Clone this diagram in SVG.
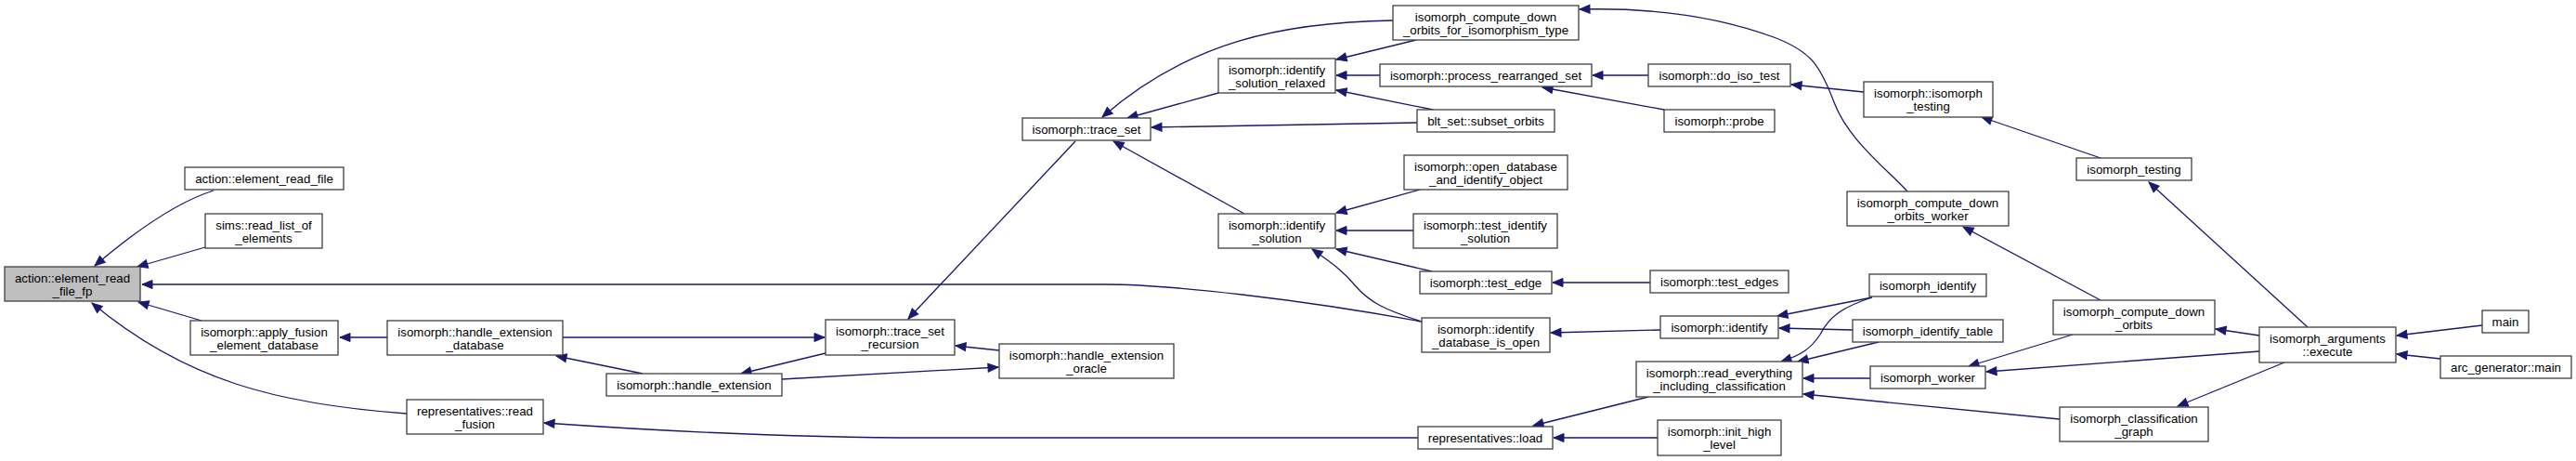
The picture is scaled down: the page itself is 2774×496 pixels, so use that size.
<svg xmlns="http://www.w3.org/2000/svg" width="2774" height="496" viewBox="0 0 2774 496">
<style>
.n rect{fill:#ffffff;stroke:#404040;stroke-width:1.3}
.n.cur rect{fill:#bfbfbf}
.n text{font-family:"Liberation Sans",Arial,sans-serif;font-size:13.3px;fill:#000;text-anchor:middle}
.e path{fill:none;stroke:midnightblue;stroke-width:1.3;marker-end:url(#arr)}
</style>
<defs>
<marker id="arr" markerUnits="userSpaceOnUse" markerWidth="14" markerHeight="12" refX="11" refY="5" orient="auto" overflow="visible">
<path d="M0,0.5 L11,5 L0,9.5 z" fill="midnightblue" stroke="midnightblue" stroke-width="1"/>
</marker>
</defs>
<rect width="2774" height="496" fill="#ffffff"/>
<g id="edges" class="e">
<path d="M230,205 C195,216 150,245 102,286"/>
<path d="M221,266 L148,287"/>
<path d="M1531,346 C1400,322 1260,306 1190,306 L153,306"/>
<path d="M217,345 L149,325"/>
<path d="M438,445 C300,435 200,410 99,326"/>
<path d="M417,363 L366,363"/>
<path d="M606,363 L888,363"/>
<path d="M692,402 L599,383"/>
<path d="M889,380 L798,402"/>
<path d="M842,408 L1075,395"/>
<path d="M1076,377 L1029,372"/>
<path d="M1158,152 L978,343"/>
<path d="M1527,471 L1000,471 C850,471 700,463 586,455"/>
<path d="M1312,100 L1214,127"/>
<path d="M1500,22 C1380,24 1280,45 1187,126"/>
<path d="M1526,132 L1240,137"/>
<path d="M1340,230 L1199,152"/>
<path d="M1525,43 L1439,64"/>
<path d="M1486,81 L1439,81"/>
<path d="M1543,118 L1439,97"/>
<path d="M1529,204 L1439,229"/>
<path d="M1522,248 L1439,248"/>
<path d="M1542,292 L1439,268"/>
<path d="M1531,346 C1490,333 1475,325 1460,308 C1445,290 1430,280 1413,268"/>
<path d="M1775,81 L1715,81"/>
<path d="M1792,118 L1661,94"/>
<path d="M1777,304 L1672,304"/>
<path d="M1788,355 L1670,358"/>
<path d="M1775,427 L1651,458"/>
<path d="M1785,471 L1673,471"/>
<path d="M2054,206 C2030,180 1990,150 1975,110 C1960,70 1950,55 1910,40 C1850,18 1780,8 1701,10"/>
<path d="M2007,99 L1929,91"/>
<path d="M2016,320 L1914,340"/>
<path d="M2016,320 C1985,330 1970,340 1960,360 C1950,375 1940,382 1918,389"/>
<path d="M1995,355 L1916,353"/>
<path d="M2023,368 L1936,389"/>
<path d="M2014,407 L1942,407"/>
<path d="M2218,451 L1942,424"/>
<path d="M2262,170 L2134,126"/>
<path d="M2262,323 L2114,244"/>
<path d="M2232,360 L2120,394"/>
<path d="M2433,378 L2139,400"/>
<path d="M2485,352 L2314,196"/>
<path d="M2433,361 L2386,354"/>
<path d="M2460,390 L2345,437"/>
<path d="M2673,350 L2581,361"/>
<path d="M2628,386 L2581,381"/>
</g>
<g id="n_fp" class="n cur"><rect x="5" y="287" width="146" height="37"/><text x="78" y="304">action::element_read</text><text x="78" y="317.5">_file_fp</text></g>
<g id="n_read_file" class="n"><rect x="199" y="180" width="171" height="24"/><text x="284.5" y="196.5">action::element_read_file</text></g>
<g id="n_sims" class="n"><rect x="221" y="230" width="126" height="37"/><text x="284" y="247">sims::read_list_of</text><text x="284" y="260.5">_elements</text></g>
<g id="n_apply_fusion" class="n"><rect x="205" y="345" width="159" height="37"/><text x="284.5" y="362">isomorph::apply_fusion</text><text x="284.5" y="375.5">_element_database</text></g>
<g id="n_hed" class="n"><rect x="417" y="345" width="189" height="37"/><text x="511.5" y="362">isomorph::handle_extension</text><text x="511.5" y="375.5">_database</text></g>
<g id="n_he" class="n"><rect x="653" y="402" width="189" height="24"/><text x="747.5" y="418.5">isomorph::handle_extension</text></g>
<g id="n_read_fusion" class="n"><rect x="438" y="430" width="147" height="37"/><text x="511.5" y="447">representatives::read</text><text x="511.5" y="460.5">_fusion</text></g>
<g id="n_trace_set" class="n"><rect x="1101" y="127" width="138" height="24"/><text x="1170" y="143.5">isomorph::trace_set</text></g>
<g id="n_tsr" class="n"><rect x="889" y="344" width="139" height="38"/><text x="958.5" y="361">isomorph::trace_set</text><text x="958.5" y="374.5">_recursion</text></g>
<g id="n_heo" class="n"><rect x="1076" y="370" width="188" height="37"/><text x="1170" y="387">isomorph::handle_extension</text><text x="1170" y="400.5">_oracle</text></g>
<g id="n_isr" class="n"><rect x="1312" y="63" width="126" height="37"/><text x="1375" y="80">isomorph::identify</text><text x="1375" y="93.5">_solution_relaxed</text></g>
<g id="n_is" class="n"><rect x="1312" y="230" width="126" height="37"/><text x="1375" y="247">isomorph::identify</text><text x="1375" y="260.5">_solution</text></g>
<g id="n_cdo_iso" class="n"><rect x="1500" y="6" width="200" height="37"/><text x="1600" y="23">isomorph_compute_down</text><text x="1600" y="36.5">_orbits_for_isomorphism_type</text></g>
<g id="n_prs" class="n"><rect x="1486" y="69" width="228" height="24"/><text x="1600" y="85.5">isomorph::process_rearranged_set</text></g>
<g id="n_blt" class="n"><rect x="1526" y="118" width="148" height="24"/><text x="1600" y="134.5">blt_set::subset_orbits</text></g>
<g id="n_odio" class="n"><rect x="1512" y="167" width="176" height="37"/><text x="1600" y="184">isomorph::open_database</text><text x="1600" y="197.5">_and_identify_object</text></g>
<g id="n_tis" class="n"><rect x="1522" y="230" width="155" height="37"/><text x="1599.5" y="247">isomorph::test_identify</text><text x="1599.5" y="260.5">_solution</text></g>
<g id="n_te" class="n"><rect x="1529" y="292" width="142" height="24"/><text x="1600" y="308.5">isomorph::test_edge</text></g>
<g id="n_idio" class="n"><rect x="1531" y="342" width="138" height="37"/><text x="1600" y="359">isomorph::identify</text><text x="1600" y="372.5">_database_is_open</text></g>
<g id="n_load" class="n"><rect x="1527" y="459" width="145" height="24"/><text x="1599.5" y="475.5">representatives::load</text></g>
<g id="n_dit" class="n"><rect x="1775" y="69" width="153" height="24"/><text x="1851.5" y="85.5">isomorph::do_iso_test</text></g>
<g id="n_probe" class="n"><rect x="1792" y="118" width="119" height="24"/><text x="1851.5" y="134.5">isomorph::probe</text></g>
<g id="n_tes" class="n"><rect x="1777" y="291" width="149" height="24"/><text x="1851.5" y="307.5">isomorph::test_edges</text></g>
<g id="n_identify" class="n"><rect x="1788" y="340" width="127" height="24"/><text x="1851.5" y="356.5">isomorph::identify</text></g>
<g id="n_rei" class="n"><rect x="1762" y="389" width="179" height="38"/><text x="1851.5" y="406">isomorph::read_everything</text><text x="1851.5" y="419.5">_including_classification</text></g>
<g id="n_ihl" class="n"><rect x="1785" y="452" width="133" height="38"/><text x="1851.5" y="469">isomorph::init_high</text><text x="1851.5" y="482.5">_level</text></g>
<g id="n_iit" class="n"><rect x="2007" y="88" width="139" height="38"/><text x="2076.5" y="105">isomorph::isomorph</text><text x="2076.5" y="118.5">_testing</text></g>
<g id="n_cdow" class="n"><rect x="1989" y="206" width="174" height="37"/><text x="2076" y="223">isomorph_compute_down</text><text x="2076" y="236.5">_orbits_worker</text></g>
<g id="n_iid" class="n"><rect x="2013" y="295" width="126" height="24"/><text x="2076" y="311.5">isomorph_identify</text></g>
<g id="n_iidt" class="n"><rect x="1995" y="344" width="162" height="24"/><text x="2076" y="360.5">isomorph_identify_table</text></g>
<g id="n_iw" class="n"><rect x="2014" y="394" width="124" height="24"/><text x="2076" y="410.5">isomorph_worker</text></g>
<g id="n_it" class="n"><rect x="2236" y="170" width="124" height="24"/><text x="2298" y="186.5">isomorph_testing</text></g>
<g id="n_cdo" class="n"><rect x="2211" y="323" width="174" height="37"/><text x="2298" y="340">isomorph_compute_down</text><text x="2298" y="353.5">_orbits</text></g>
<g id="n_icg" class="n"><rect x="2218" y="438" width="160" height="37"/><text x="2298" y="455">isomorph_classification</text><text x="2298" y="468.5">_graph</text></g>
<g id="n_exec" class="n"><rect x="2433" y="352" width="147" height="38"/><text x="2506.5" y="369">isomorph_arguments</text><text x="2506.5" y="382.5">::execute</text></g>
<g id="n_main" class="n"><rect x="2673" y="334" width="50" height="24"/><text x="2698" y="350.5">main</text></g>
<g id="n_arc" class="n"><rect x="2628" y="383" width="141" height="24"/><text x="2698.5" y="399.5">arc_generator::main</text></g>
</svg>
